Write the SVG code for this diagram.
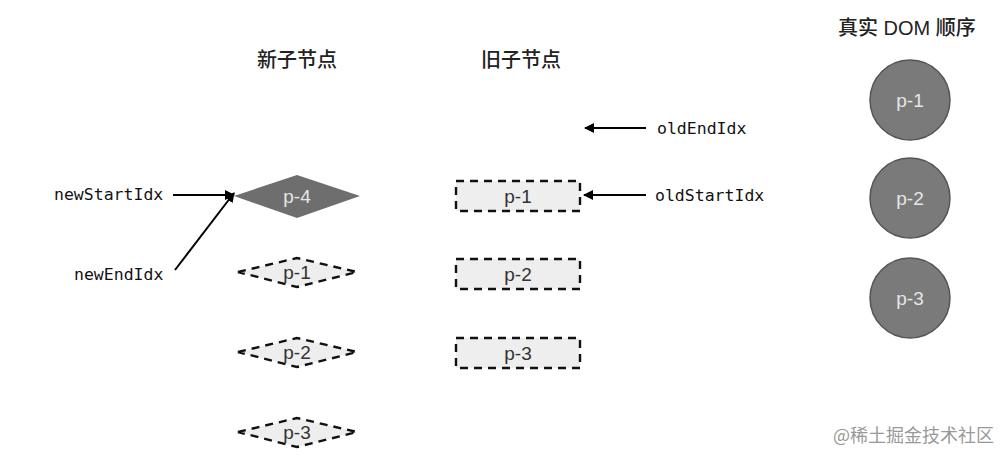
<svg xmlns="http://www.w3.org/2000/svg" width="1008" height="460" viewBox="0 0 1008 460">
<defs>
<marker id="ah" viewBox="0 0 10 10" refX="9" refY="5" markerWidth="10" markerHeight="10" markerUnits="userSpaceOnUse" orient="auto">
<path d="M0,0 L10,5 L0,10 z" fill="#000"/>
</marker>
<style>
.mono{font-family:"DejaVu Sans Mono",monospace;font-size:16.5px;fill:#111}
.hdr{font-family:"Liberation Sans","Noto Sans CJK SC",sans-serif;font-size:20px;font-weight:500;fill:#222}
.lbl{font-family:"Liberation Sans",Arial,sans-serif;font-size:19px;text-anchor:middle}
.dash{fill:#eeeeee;stroke:#111;stroke-width:2.4;stroke-dasharray:8 6}
.conn{stroke:#000;stroke-width:2;fill:none}
.circ{fill:#7a7a7a;stroke:#555;stroke-width:1.5}
</style>
</defs>
<rect width="1008" height="460" fill="#fff"/>
<text class="hdr" x="257" y="67">新子节点</text>
<text class="hdr" x="481" y="67">旧子节点</text>
<text class="hdr" x="838" y="35">真实 DOM 顺序</text>

<g id="new-p4">
<polygon points="234,196 297,175 360,196 297,218" fill="#6e6e6e"/>
<text class="lbl" x="297" y="203" fill="#e6e6e6">p-4</text>
</g>
<g id="new-p1">
<polygon class="dash" points="238,272 297,258 357,272 297,287"/>
<text class="lbl" x="297" y="279" fill="#333">p-1</text>
</g>
<g id="new-p2">
<polygon class="dash" points="238,352 297,338 357,352 297,367"/>
<text class="lbl" x="297" y="359" fill="#333">p-2</text>
</g>
<g id="new-p3">
<polygon class="dash" points="238,432 297,418 357,432 297,447"/>
<text class="lbl" x="297" y="439" fill="#333">p-3</text>
</g>

<g id="old-p1">
<rect class="dash" x="456" y="181" width="124" height="30"/>
<text class="lbl" x="518" y="203" fill="#333">p-1</text>
</g>
<g id="old-p2">
<rect class="dash" x="456" y="259" width="124" height="30"/>
<text class="lbl" x="518" y="281" fill="#333">p-2</text>
</g>
<g id="old-p3">
<rect class="dash" x="456" y="338" width="124" height="30"/>
<text class="lbl" x="518" y="360" fill="#333">p-3</text>
</g>

<g id="dom-p1">
<circle class="circ" cx="910" cy="100" r="40"/>
<text class="lbl" x="910" y="107" fill="#e6e6e6">p-1</text>
</g>
<g id="dom-p2">
<circle class="circ" cx="910" cy="198" r="40"/>
<text class="lbl" x="910" y="205" fill="#e6e6e6">p-2</text>
</g>
<g id="dom-p3">
<circle class="circ" cx="910" cy="298" r="40"/>
<text class="lbl" x="910" y="305" fill="#e6e6e6">p-3</text>
</g>

<g id="ptr-newStartIdx"><text class="mono" x="54" y="200">newStartIdx</text></g>
<g id="ptr-newEndIdx"><text class="mono" x="74" y="280">newEndIdx</text></g>
<g id="ptr-oldEndIdx"><text class="mono" x="657" y="134">oldEndIdx</text></g>
<g id="ptr-oldStartIdx"><text class="mono" x="655" y="201">oldStartIdx</text></g>

<g id="connectors">
<line class="conn" x1="173" y1="195" x2="234" y2="195" marker-end="url(#ah)"/>
<line class="conn" x1="175" y1="270" x2="234" y2="193" marker-end="url(#ah)"/>
<line class="conn" x1="646" y1="128" x2="585" y2="128" marker-end="url(#ah)"/>
<line class="conn" x1="646" y1="195" x2="584" y2="195" marker-end="url(#ah)"/>
</g>

<text x="833" y="442" font-family="Noto Sans CJK SC,sans-serif" font-size="18" fill="#999">@稀土掘金技术社区</text>
</svg>
